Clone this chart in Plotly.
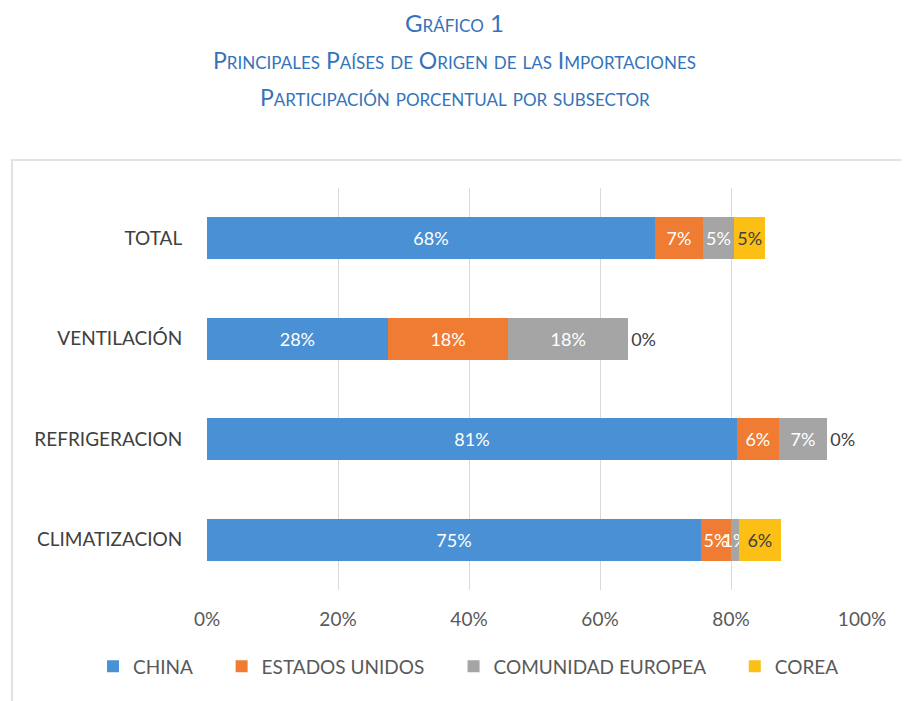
import plotly.graph_objects as go

categories = ["TOTAL", "VENTILACIÓN", "REFRIGERACION", "CLIMATIZACION"]
china = [68.4, 27.6, 80.9, 75.4]
estados_unidos = [7.3, 18.4, 6.4, 4.6]
comunidad_europea = [4.8, 18.3, 7.4, 1.2]
corea = [4.7, 0.0, 0.0, 6.4]
x_ticks = [0, 20, 40, 60, 80, 100]
x_tick_labels = ["0%", "20%", "40%", "60%", "80%", "100%"]

FONT = "Lato"
TITLE_BLUE = "#3473BA"
PAD = "\u00a0" * 5


def small_caps(text, small):
    out = []
    for ch in text:
        if ch.islower():
            out.append(f"<span style='font-size:{small}px'>{ch.upper()}</span>")
        else:
            out.append(ch)
    return "".join(out)


series = [
    ("CHINA", china, "#4A90D4", "white", "inside"),
    ("ESTADOS UNIDOS", estados_unidos, "#F07B33", "white", "inside"),
    ("COMUNIDAD EUROPEA", comunidad_europea, "#A5A5A5", "white", "inside"),
    ("COREA", corea, "#FBBF16", "#404040", None),
]

fig = go.Figure()
for i, (name, vals, color, tcolor, pos) in enumerate(series):
    if pos is None:
        pos = ["inside" if v > 0.5 else "outside" for v in vals]
    fig.add_trace(go.Bar(
        y=categories, x=vals, name=name + (PAD if i < len(series) - 1 else ""),
        orientation="h",
        marker=dict(color=color, line=dict(width=0)),
        text=[f"{v:.0f}%" for v in vals],
        textposition=pos,
        textangle=0,
        insidetextanchor="middle",
        textfont=dict(family=FONT, size=18, color=tcolor),
        outsidetextfont=dict(family=FONT, size=18, color="#404040"),
        cliponaxis=False,
        width=0.42,
    ))

fig.update_layout(
    barmode="stack",
    width=909, height=701,
    margin=dict(l=199, r=55, t=180, b=119),
    paper_bgcolor="white", plot_bgcolor="white",
    font=dict(family=FONT, color="#595959"),
    uniformtext=dict(minsize=18, mode="show"),
    showlegend=True,
    legend=dict(orientation="h", x=-0.174, xanchor="left", y=-0.19, yanchor="middle",
                font=dict(family=FONT, size=19, color="#595959"),
                itemsizing="constant", traceorder="normal"),
    xaxis=dict(range=[0, 100], tickvals=x_ticks, ticktext=x_tick_labels,
               showgrid=True, gridcolor="#D9D9D9", gridwidth=1, zeroline=False,
               showline=False, ticks="outside", ticklen=12, tickcolor="rgba(0,0,0,0)",
               tickfont=dict(family=FONT, size=19, color="#595959"), fixedrange=True),
    yaxis=dict(categoryorder="array", categoryarray=categories, autorange="reversed",
               showgrid=False, zeroline=False, showline=False,
               ticks="outside", ticklen=20, tickcolor="rgba(0,0,0,0)",
               tickfont=dict(family=FONT, size=19, color="#404040"), fixedrange=True),
)

fig.add_shape(type="rect", xref="paper", yref="paper",
              x0=-0.2977, x1=1.3, y0=-0.6, y1=1.0697,
              line=dict(color="#D9D9D9", width=1.5), fillcolor="rgba(0,0,0,0)", layer="below")

titles = [
    (small_caps("Gráfico 1", 17), 24, 1.4117),
    (small_caps("Principales Países de Origen de las Importaciones", 17), 23, 1.3184),
    (small_caps("Participación porcentual por subsector", 17), 23, 1.2264),
]
for txt, size, yy in titles:
    fig.add_annotation(text=txt, xref="paper", yref="paper", x=0.3786, y=yy,
                       xanchor="center", yanchor="middle", showarrow=False,
                       font=dict(family=FONT, size=size, color=TITLE_BLUE))

fig.write_html("out.html")
